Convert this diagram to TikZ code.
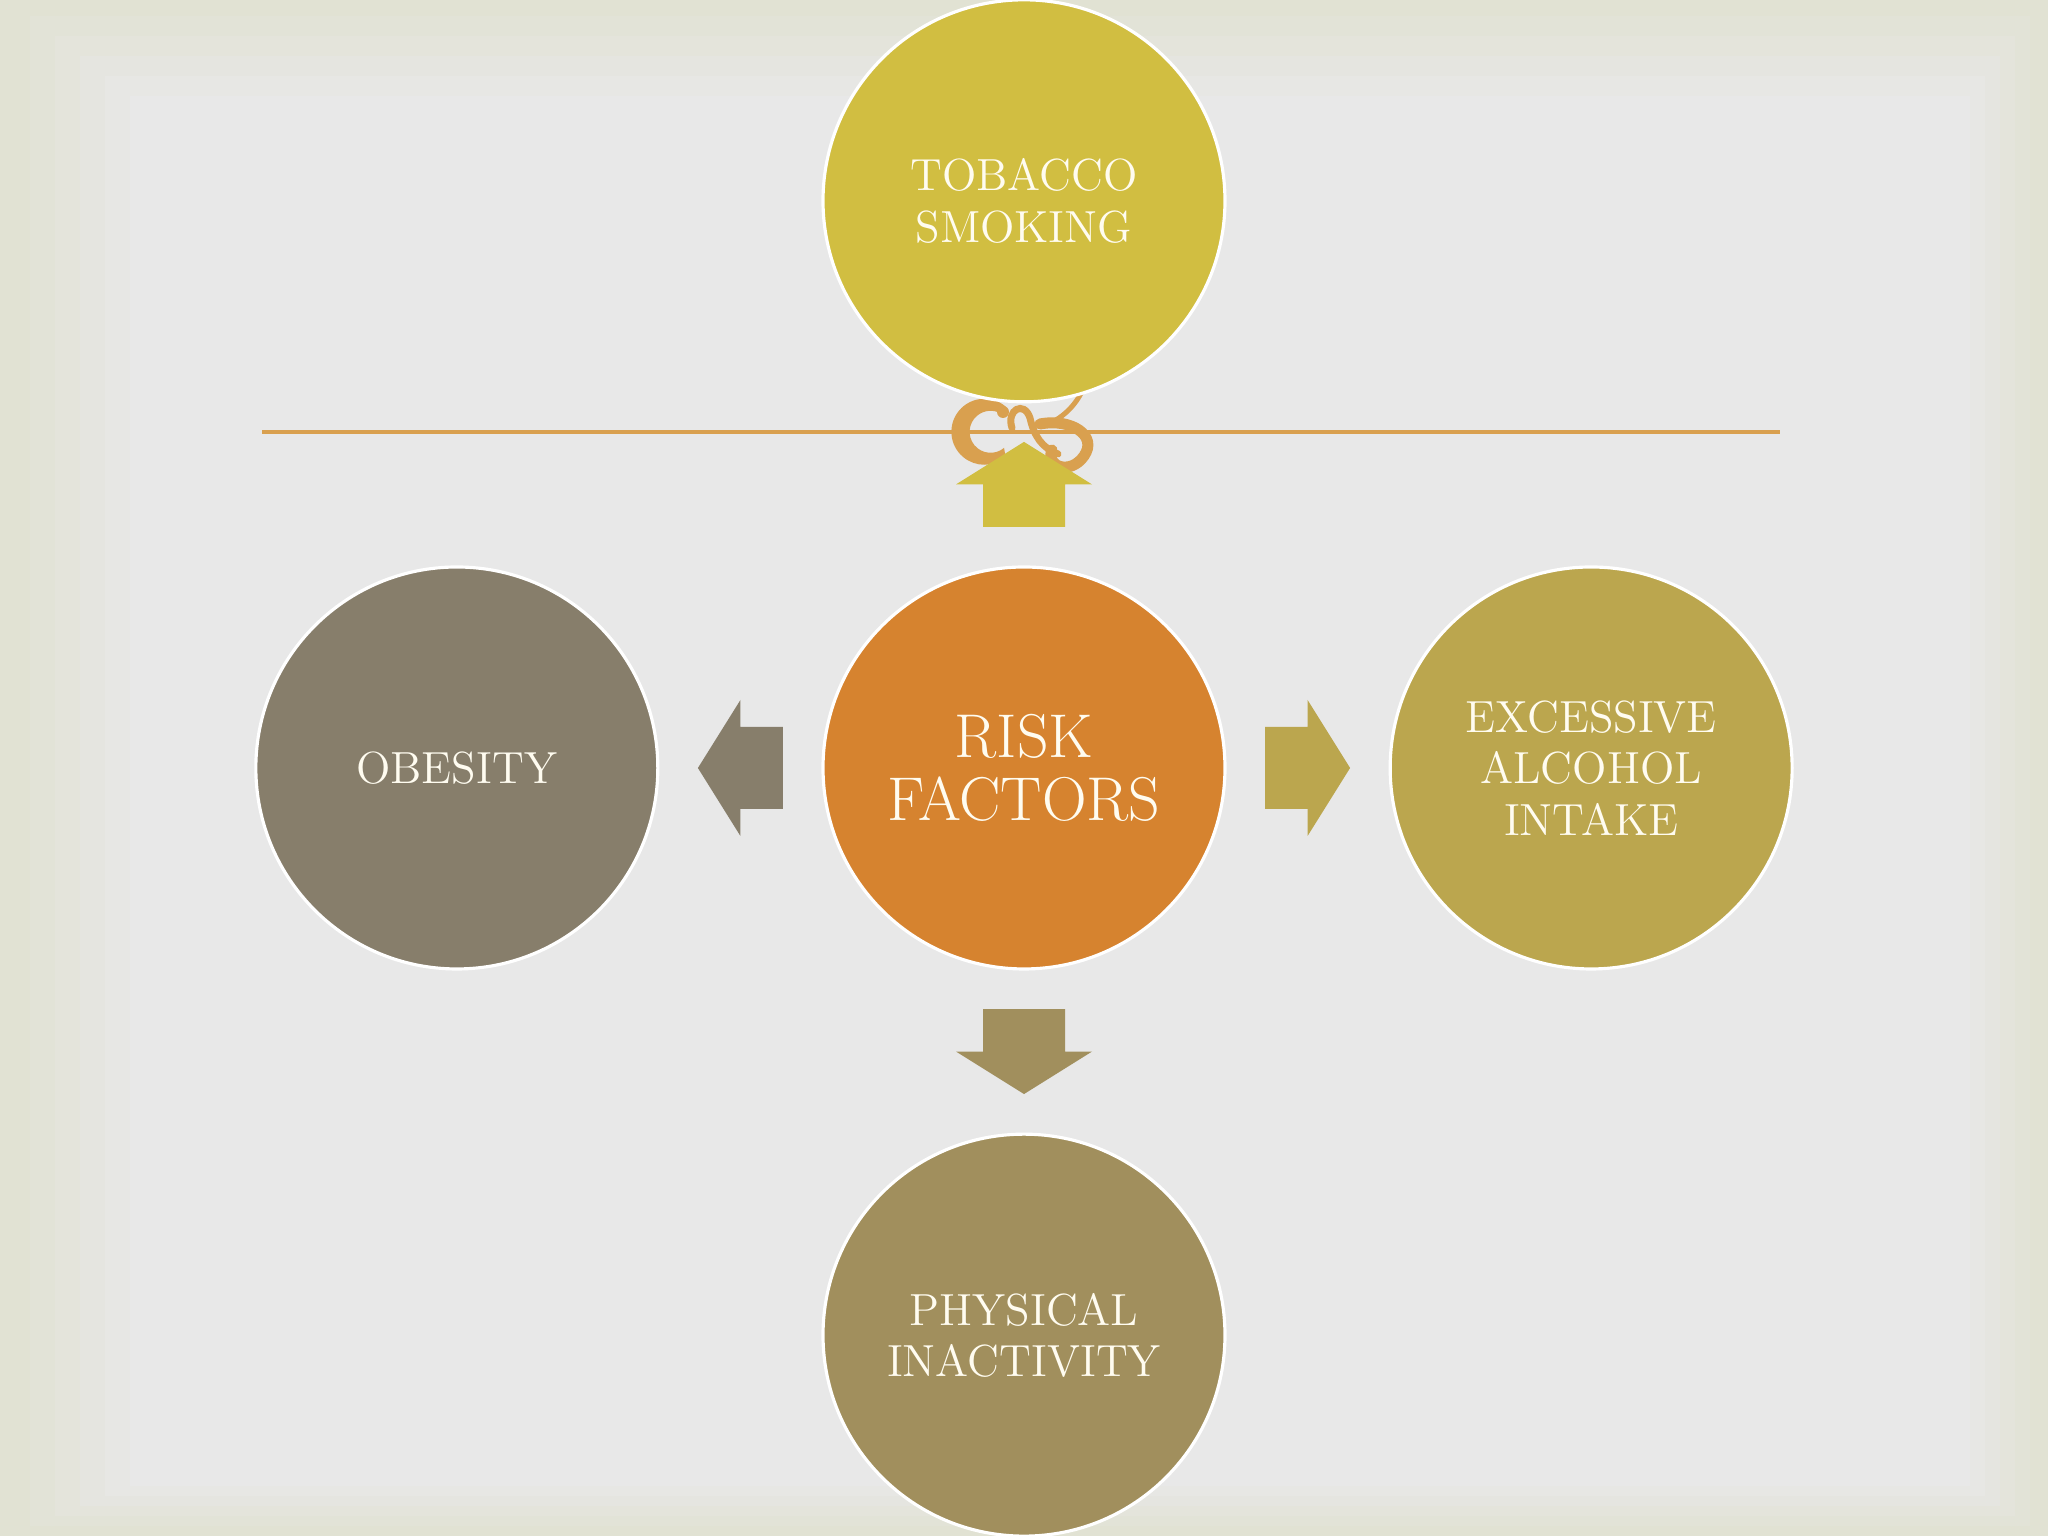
\documentclass[tikz,border=0pt]{standalone}
\usepackage{xcolor}
\definecolor{tobacco}{RGB}{209,190,65}
\definecolor{risk}{RGB}{214,131,47}
\definecolor{obesity}{RGB}{135,126,107}
\definecolor{alcohol}{RGB}{187,166,78}
\definecolor{inactivity}{RGB}{161,143,93}
\definecolor{rule}{RGB}{217,160,79}
\definecolor{paper}{RGB}{232,232,232}
\definecolor{frame}{RGB}{225,226,211}
\definecolor{cream}{RGB}{255,252,240}
\usepackage{tikz}
\usetikzlibrary{positioning}
\tikzset{
    factor/.style={draw=white, line width=0.9pt, circle, minimum size=4.02cm, inner sep=0pt,
        align=center, text=cream, font=\fontsize{12.8}{14.6}\selectfont},
    hub/.style={factor, font=\fontsize{17.6}{18}\selectfont},
    flourish/.style={draw=rule, line width=0.11cm, line cap=round},
    pics/blockarrow/.style={code={
        \fill (-0.425,-0.41) -- (0,-0.41) -- (0,-0.68) -- (0.425,0) -- (0,0.68) -- (0,0.41) -- (-0.425,0.41) -- cycle;
    }}
}

\begin{document}
\begin{tikzpicture}
            \useasboundingbox (0,0) rectangle (20.48,15.36);
            \fill[frame] (0,0) rectangle (20.48,15.36);
            \fill[frame!80!paper] (0.3,0.1) rectangle (20.3,15.2);
            \fill[frame!60!paper] (0.55,0.2) rectangle (20.15,15.0);
            \fill[frame!40!paper] (0.8,0.3) rectangle (20.0,14.8);
            \fill[frame!20!paper] (1.05,0.4) rectangle (19.85,14.6);
            \fill[paper] (1.3,0.5) rectangle (19.7,14.4);

            \node[hub, fill=risk] (risk) at (10.24,7.68) {RISK\\FACTORS};

            % rule and ornament lie behind the top circle
            \draw[rule, line width=0.9pt] (2.62,11.04) -- (17.80,11.04);
            \fill[rule] (10.056,11.295) arc (50:310:0.33) -- (10.041,10.881) arc (310:50:0.21) -- cycle;
            \fill[rule] (10.03,11.24) circle (0.06);
            \draw[flourish, line width=0.07cm] (10.12,11.08) .. controls (10.06,11.26) and (10.24,11.36) .. (10.30,11.18)
                .. controls (10.34,11.00) and (10.42,10.88) .. (10.58,10.82);
            \draw[flourish] (10.40,11.12) .. controls (10.72,11.18) and (10.98,11.00) .. (10.84,10.80)
                .. controls (10.70,10.60) and (10.45,10.70) .. (10.52,10.86);
            \draw[flourish, line width=0.05cm] (10.56,11.16) .. controls (10.72,11.26) and (10.82,11.40) .. (10.88,11.60);

            \node[factor, fill=tobacco, above=1.62cm of risk] (tobacco) {TOBACCO\\SMOKING};
            \node[factor, fill=obesity, left=1.62cm of risk] (obesity) {OBESITY};
            \node[factor, fill=alcohol, right=1.62cm of risk] (alcohol) {EXCESSIVE\\ALCOHOL\\INTAKE};
            \node[factor, fill=inactivity, below=1.62cm of risk] (inactivity) {PHYSICAL\\INACTIVITY};

            \path (risk) -- (tobacco) pic[pos=0.5, sloped, allow upside down, tobacco] {blockarrow};
            \path (risk) -- (obesity) pic[pos=0.5, sloped, allow upside down, obesity] {blockarrow};
            \path (risk) -- (alcohol) pic[pos=0.5, sloped, allow upside down, alcohol] {blockarrow};
            \path (risk) -- (inactivity) pic[pos=0.5, sloped, allow upside down, inactivity] {blockarrow};
          \end{tikzpicture}
\end{document}
